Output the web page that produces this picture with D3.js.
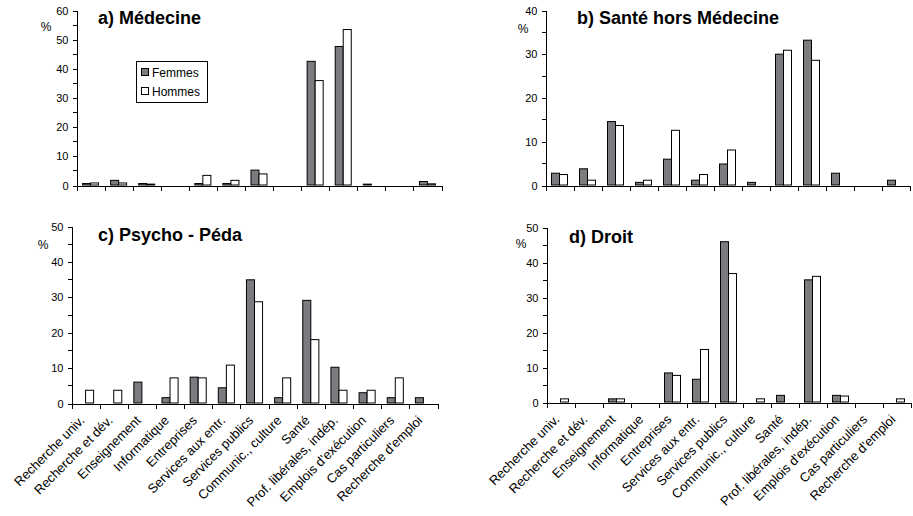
<!DOCTYPE html>
<html>
<head>
<meta charset="utf-8">
<script src="https://cdn.jsdelivr.net/npm/d3@7"></script>
<style>
  html, body { margin: 0; padding: 0; background: #fff; }
  svg { display: block; font-family: "Liberation Sans", Arial, sans-serif; }
  .axis path, .axis line { stroke: #000; stroke-width: 1; shape-rendering: crispEdges; }
  .axis text { fill: #000; font-size: 11px; }
</style>
</head>
<body>
<svg id="chart" width="913" height="516"></svg>
<script>
// Sectors of activity (shared by all four panels)
const categories = [
  "Recherche univ.", "Recherche et dév.", "Enseignement", "Informatique",
  "Entreprises", "Services aux entr.", "Services publics", "Communic., culture",
  "Santé", "Prof. libérales, indép.", "Emplois d'exécution", "Cas particuliers",
  "Recherche d'emploi"
];

const seriesNames = ["Femmes", "Hommes"];

// a) Médecine
const femmesMedecine = [0.5, 1.6, 0.5, 0, 0.5, 0.5, 5.1, 0, 42.4, 47.5, 0.3, 0, 1.2];
const hommesMedecine = [0.7, 0.7, 0.3, 0, 3.3, 1.6, 3.8, 0, 35.8, 53.3, 0, 0, 0.4];

// b) Santé hors Médecine
const femmesSante = [2.7, 3.7, 14.5, 0.6, 5.9, 1.1, 4.8, 0.6, 29.9, 33.1, 2.7, 0, 1.1];
const hommesSante = [2.4, 1.1, 13.6, 1.1, 12.5, 2.4, 8.0, 0, 30.8, 28.5, 0, 0, 0];

// c) Psycho - Péda
const femmesPsycho = [0, 0, 5.9, 1.5, 7.3, 4.3, 34.8, 1.5, 29.0, 10.1, 2.9, 1.5, 1.5];
const hommesPsycho = [3.6, 3.6, 0, 7.1, 7.1, 10.7, 28.6, 7.1, 17.9, 3.6, 3.6, 7.1, 0];

// d) Droit
const femmesDroit = [0, 0, 0.9, 0, 8.3, 6.5, 45.8, 0, 1.9, 34.9, 1.9, 0, 0];
const hommesDroit = [0.9, 0, 0.9, 0, 7.6, 15.0, 36.7, 0.9, 0, 35.9, 1.7, 0, 0.9];

// Panel titles and y-axis maxima
const panelTitles = ["a) Médecine", "b) Santé hors Médecine", "c) Psycho - Péda", "d) Droit"];
const panelMax = [60, 40, 50, 50];
const panelFemmes = [femmesMedecine, femmesSante, femmesPsycho, femmesDroit];
const panelHommes = [hommesMedecine, hommesSante, hommesPsycho, hommesDroit];

// Plot frames (pixel geometry)
const frames = [
  { x0: 76,  x1: 441, yTop: 10,  yBot: 185, titleX: 98,  titleY: 24,  pctX: 46,  pctY: 31,  labels: false, legend: true },
  { x0: 545, x1: 909, yTop: 10,  yBot: 185, titleX: 577, titleY: 24,  pctX: 523, pctY: 33,  labels: false, legend: false },
  { x0: 71,  x1: 437, yTop: 226, yBot: 403, titleX: 98,  titleY: 241, pctX: 43,  pctY: 249, labels: true,  legend: false },
  { x0: 546, x1: 910, yTop: 227, yBot: 402, titleX: 569, titleY: 243, pctX: 521, pctY: 248, labels: true,  legend: false }
];

const colors = { Femmes: "#7a7c7f", Hommes: "#ffffff" };

const svg = d3.select("#chart");

frames.forEach((f, p) => {
  const g = svg.append("g");
  const max = panelMax[p];

  const x = d3.scaleBand().domain(categories).range([f.x0, f.x1]).padding(0);
  const xs = d3.scaleBand().domain(seriesNames).range([0, x.bandwidth()])
    .paddingInner(0).paddingOuter(0.75);
  const y = d3.scaleLinear().domain([0, max]).range([f.yBot, f.yTop]);

  // bars
  const rows = categories.map((c, i) => ({
    cat: c,
    vals: [
      { s: "Femmes", v: panelFemmes[p][i] },
      { s: "Hommes", v: panelHommes[p][i] }
    ]
  }));
  g.selectAll("g.cat").data(rows).join("g")
    .attr("class", "cat")
    .attr("transform", d => `translate(${x(d.cat)},0)`)
    .selectAll("rect").data(d => d.vals.filter(v => v.v > 0)).join("rect")
    .attr("x", d => xs(d.s) + 0.5)
    .attr("y", d => y(d.v))
    .attr("width", xs.bandwidth())
    .attr("height", d => y(0) - y(d.v))
    .attr("fill", d => colors[d.s])
    .attr("stroke", "#000")
    .attr("stroke-width", 1);

  // y axis: major ticks every 10, minor every 5
  const minorAxis = d3.axisLeft(y).tickValues(d3.range(5, max, 10)).tickFormat("").tickSize(4).tickSizeOuter(0);
  g.append("g").attr("class", "axis").attr("transform", `translate(${f.x0 + 0.5},0)`).call(minorAxis)
    .select(".domain").remove();
  const yAxis = d3.axisLeft(y).tickValues(d3.range(0, max + 1, 10)).tickSize(4).tickSizeOuter(0).tickPadding(4);
  g.append("g").attr("class", "axis").attr("transform", `translate(${f.x0 + 0.5},0.5)`).call(yAxis);

  // x axis with ticks at category boundaries
  const xb = d3.scaleLinear().domain([0, categories.length]).range([f.x0, f.x1]);
  const xAxis = d3.axisBottom(xb).tickValues(d3.range(categories.length + 1)).tickFormat("").tickSize(5).tickSizeOuter(0);
  g.append("g").attr("class", "axis").attr("transform", `translate(0.5,${f.yBot + 0.5})`).call(xAxis);

  // category labels (bottom row only)
  if (f.labels) {
    g.selectAll("text.xl").data(categories).join("text")
      .attr("class", "xl")
      .attr("transform", d => `translate(${x(d) + x.bandwidth() / 2 - 3},${f.yBot + 15}) rotate(-45)`)
      .attr("text-anchor", "end")
      .attr("dy", "0.35em")
      .attr("font-size", 13)
      .attr("fill", "#000")
      .text(d => d);
  }

  // title and unit
  g.append("text").attr("x", f.titleX).attr("y", f.titleY)
    .attr("font-size", 18).attr("font-weight", "bold").attr("fill", "#000")
    .text(panelTitles[p]);
  g.append("text").attr("x", f.pctX).attr("y", f.pctY)
    .attr("font-size", 12).attr("text-anchor", "middle").attr("fill", "#000")
    .text("%");

  // legend
  if (f.legend) {
    const lg = g.append("g").attr("transform", "translate(136,61)");
    lg.append("rect").attr("x", 0.5).attr("y", 0.5).attr("width", 71).attr("height", 41)
      .attr("fill", "#fff").attr("stroke", "#000");
    seriesNames.forEach((s, i) => {
      lg.append("rect").attr("x", 5.5).attr("y", 7.5 + i * 19).attr("width", 7).attr("height", 7)
        .attr("fill", colors[s]).attr("stroke", "#000");
      lg.append("text").attr("x", 16).attr("y", 15.5 + i * 19)
        .attr("font-size", 12).attr("fill", "#000").text(s);
    });
  }
});
</script>
</body>
</html>
